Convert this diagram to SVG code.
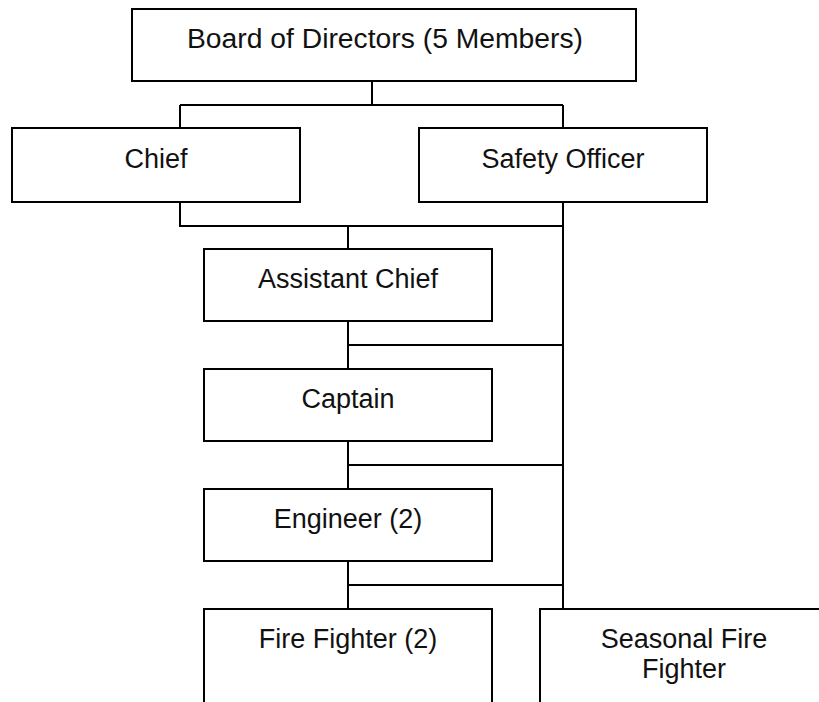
<svg xmlns="http://www.w3.org/2000/svg" width="819" height="702" viewBox="0 0 819 702">
<style>
  .box { fill: #ffffff; stroke: #000000; stroke-width: 2; }
  .lbl { font-family: "Liberation Sans", Arial, sans-serif; font-size: 27px; fill: #111111; text-anchor: middle; }
  .con { stroke: #000000; stroke-width: 2; fill: none; }
</style>
<rect x="0" y="0" width="819" height="702" fill="#ffffff"/>
<g id="connectors">
  <path class="con" d="M372,81 V105 M180,105 H563 M180,105 V128 M563,105 V128"/>
  <path class="con" d="M180,202 V226 H563 M563,202 V609 M348,226 V249"/>
  <path class="con" d="M348,321 V369 M348,345 H563"/>
  <path class="con" d="M348,441 V489 M348,465 H563"/>
  <path class="con" d="M348,561 V609 M348,585 H563"/>
</g>
<g id="board">
  <rect class="box" x="132" y="9" width="504" height="72"/>
  <text class="lbl" x="385" y="48" textLength="396" lengthAdjust="spacingAndGlyphs">Board of Directors (5 Members)</text>
</g>
<g id="chief">
  <rect class="box" x="12" y="128" width="288" height="74"/>
  <text class="lbl" x="156" y="168">Chief</text>
</g>
<g id="safety-officer">
  <rect class="box" x="419" y="128" width="288" height="74"/>
  <text class="lbl" x="563" y="168">Safety Officer</text>
</g>
<g id="assistant-chief">
  <rect class="box" x="204" y="249" width="288" height="72"/>
  <text class="lbl" x="348" y="288">Assistant Chief</text>
</g>
<g id="captain">
  <rect class="box" x="204" y="369" width="288" height="72"/>
  <text class="lbl" x="348" y="408">Captain</text>
</g>
<g id="engineer">
  <rect class="box" x="204" y="489" width="288" height="72"/>
  <text class="lbl" x="348" y="528">Engineer (2)</text>
</g>
<g id="fire-fighter">
  <rect class="box" x="204" y="609" width="288" height="120"/>
  <text class="lbl" x="348" y="648">Fire Fighter (2)</text>
</g>
<g id="seasonal-fire-fighter">
  <rect class="box" x="540" y="609" width="290" height="120"/>
  <text class="lbl" x="684" y="648">Seasonal Fire</text>
  <text class="lbl" x="684" y="678">Fighter</text>
</g>
</svg>
